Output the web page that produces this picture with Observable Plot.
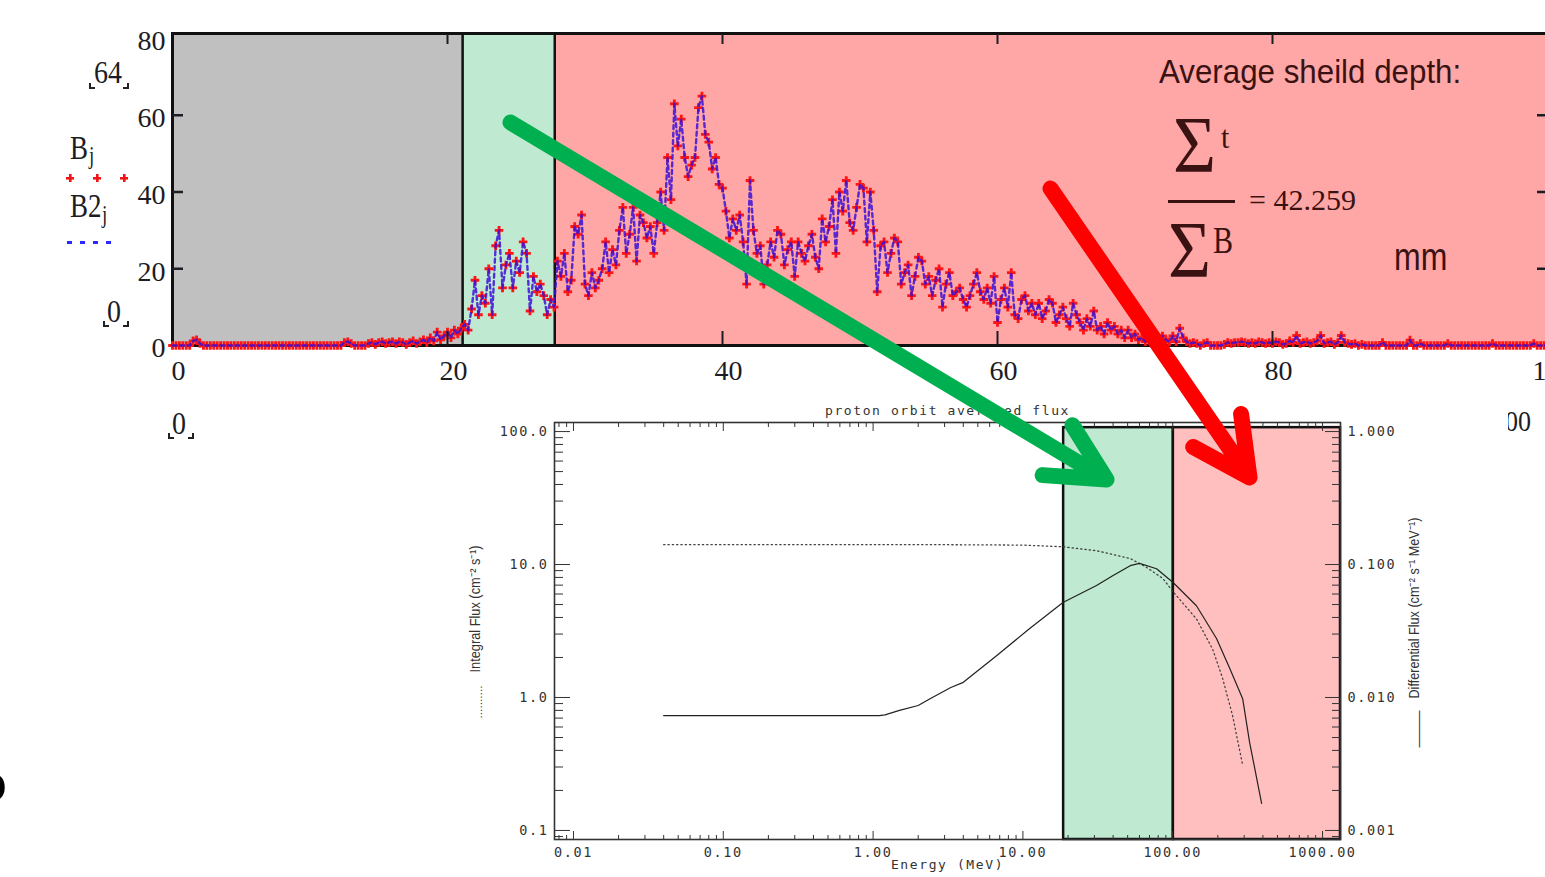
<!DOCTYPE html>
<html><head><meta charset="utf-8">
<script src="https://cdn.jsdelivr.net/npm/d3@7"></script>
<script src="https://cdn.jsdelivr.net/npm/@observablehq/plot@0.6"></script>
<style>
html,body{margin:0;padding:0;width:1545px;height:877px;overflow:hidden;background:#fff;}
.abs{position:absolute;white-space:nowrap;line-height:1;}
svg{max-width:none !important;}
.serif{font-family:"Liberation Serif","Times New Roman",serif;}
.sans{font-family:"Liberation Sans",Arial,sans-serif;}
.ink{color:#1c1c24;}
.note{color:#3b1212;}
.corner{position:absolute;width:4px;height:4px;border-bottom:2px solid #222;}
.cl{border-left:2px solid #222;}
.cr{border-right:2px solid #222;}
.plus{position:absolute;width:8px;height:8px;
  background:linear-gradient(#f21414,#f21414) center/8px 2.6px no-repeat,linear-gradient(#f21414,#f21414) center/2.6px 8px no-repeat;}
</style></head><body>

<div id="top" class="abs" style="left:0;top:0;z-index:1"></div>

<!-- Mathcad-style labels -->
<div style="position:absolute;left:0;top:0;z-index:2">
  <div class="abs serif ink" style="left:94px;top:57px;font-size:28px;transform:scaleY(1.15);transform-origin:0 0">64</div>
  <div class="corner cl" style="left:89px;top:83px"></div><div class="corner cr" style="left:123px;top:83px"></div>

  <div class="abs serif ink" style="left:70px;top:131px;font-size:27px;transform:scaleY(1.28);transform-origin:0 0">B</div>
  <div class="abs serif ink" style="left:89px;top:144px;font-size:19px;transform:scaleY(1.28);transform-origin:0 0">j</div>
  <div class="plus" style="left:66px;top:174px"></div>
  <div class="plus" style="left:93px;top:174px"></div>
  <div class="plus" style="left:120px;top:174px"></div>
  <div class="abs serif ink" style="left:70px;top:189px;font-size:27px;transform:scaleY(1.28);transform-origin:0 0">B2</div>
  <div class="abs serif ink" style="left:102px;top:203px;font-size:19px;transform:scaleY(1.28);transform-origin:0 0">j</div>
  <div class="abs" style="left:67px;top:241px;width:50px;height:2.5px;background:repeating-linear-gradient(90deg,#2a2aff 0 5px,transparent 5px 13px)"></div>

  <div class="abs serif ink" style="left:107px;top:296px;font-size:28px;transform:scaleY(1.15);transform-origin:0 0">0</div>
  <div class="corner cl" style="left:103px;top:321px"></div><div class="corner cr" style="left:123px;top:321px"></div>

  <div class="abs serif ink" style="left:172px;top:408px;font-size:28px;transform:scaleY(1.15);transform-origin:0 0">0</div>
  <div class="corner cl" style="left:168px;top:433px"></div><div class="corner cr" style="left:188px;top:433px"></div>

  <div class="abs serif ink" style="left:1492px;top:407px;font-size:26px;transform:scaleY(1.15);transform-origin:0 0">100</div>

  <div class="abs sans note" style="left:1159px;top:56px;font-size:31.3px;transform:scaleY(1.05);transform-origin:0 0">Average sheild depth:</div>
  <div class="abs serif note" style="left:1173px;top:104px;font-size:74px;transform:scaleY(1.1);transform-origin:0 0">Σ</div>
  <div class="abs serif note" style="left:1221px;top:122px;font-size:30px;transform:scaleY(1.05);transform-origin:0 0">t</div>
  <div class="abs" style="left:1168px;top:200px;width:67px;height:3px;background:#3b1212"></div>
  <div class="abs serif note" style="left:1249px;top:185px;font-size:30px">= 42.259</div>
  <div class="abs serif note" style="left:1168px;top:209px;font-size:74px;transform:scaleY(1.1);transform-origin:0 0">Σ</div>
  <div class="abs serif note" style="left:1213px;top:222px;font-size:30px;transform:scaleY(1.25);transform-origin:0 0">B</div>
  <div class="abs sans note" style="left:1394px;top:238px;font-size:32px;transform:scaleY(1.2);transform-origin:0 0">mm</div>

  <div class="abs sans" style="left:-25px;top:757px;font-size:52px;font-weight:bold;color:#000">o</div>
</div>

<div id="bottom" class="abs" style="left:440px;top:395px;z-index:3"></div>
<div id="arrows" class="abs" style="left:0;top:0;z-index:4;pointer-events:none"></div>

<script>
// ---------- Top chart (Mathcad): B_j and B2_j versus depth ----------
const depthStep = 0.25;           // sample spacing along the x axis
const B = [
  // 0 – 4.75
  0,0,0,0,0,0,1.2,1.5,0.5,0,0,0,0,0,0,0,0,0,0,0,
  // 5 – 9.75
  0,0,0,0,0,0,0,0,0,0,0,0,0,0,0,0,0,0,0,0,
  // 10 – 14.75
  0,0,0,0,0,0,0,0,0,0,0.8,1.0,0.5,0,0,0,0,0.5,0.8,0.3,
  // 15 – 19.75
  0.8,1,0.5,0.8,1,0.5,1,0.8,0.3,0.8,1.2,0.5,1,1.5,0.8,2,1.2,3.5,1.5,2.5,
  // 20 – 24.75
  3.5,2,4,3,4.5,5.5,4,9.5,17,8,13,11,20,8,26,30,15,21,24,15,
  // 25 – 29.75
  22,19,27,24,9,18,14,16,13,8,12,10,22,18,24,14,17,31,29,34,
  // 30 – 34.75
  16,13,19,15,17,20,27,19,25,21,30,36,24,29,36,22,34,32,28,31,
  // 35 – 39.75
  24,32,40,30,49,38,63,52,59,49,44,47,49,62,65,55,53,46,49,42,
  // 40 – 44.75
  41,35,28,33,30,34,27,16,43,30,24,26,16,21,27,23,30,29,21,25,
  // 45 – 49.75
  27,18,27,24,22,26,29,23,20,33,27,31,38,24,40,35,43,32,30,36,
  // 50 – 54.75
  42,41,27,40,30,14,26,27,19,24,28,27,16,19,21,13,18,23,22,16,
  // 55 – 59.75
  18,13,17,20,10,16,19,13,14,15,12,10,13,16,19,14,12,15,11,18,
  // 60 – 64.75
  6,12,15,10,19,8,7,12,13,9,11,8,11,7,9,12,11,6,8,10,
  // 65 – 69.75
  7,5,11,8,6,4,7,5,9,4,5,3,6,4,5,3,4,2,4,2,
  // 70 – 74.75
  3,1.5,2,1,2,1,2.5,1,2.5,1.5,1,2.5,1,4.5,2,1,0.5,0.8,0.5,0,
  // 75 – 79.75
  0.5,0.8,0,0,0,0,0.3,0.8,0.5,0.8,0.8,1,0.8,0.5,0.8,0.5,1,0.8,0.5,0.8,
  // 80 – 84.75
  0.5,1,0.8,0.3,0.5,1.2,0.8,2.6,0.5,0.8,1,0.5,0.8,1.2,2.6,0.5,0.8,1,0.3,0.8,
  // 85 – 89.75
  2.6,0.8,0.5,0.3,0.5,0,0.3,0,0,0,0,0,0.8,0,0,0,0,0,0,0,
  // 90 – 94.75
  1.4,0,0,0.5,0,0,0,0,0,0,0,0.5,0,0,0,0,0,0,0,0,
  // 95 – 99.75
  0,0,0,0,0.5,0,0,0,0,0,0,0,0,0,0,0,0.5,0,0,0,
  // 100
  0
];
const B2 = B;   // the blue dashed B2_j series runs through the same points as B_j in the picture
const topXTicks = [0, 20, 40, 60, 80, 100];
const topYTicks = [0, 20, 40, 60, 80];
const topInnerX = [20, 40, 60, 80];
const topInnerY = [20, 40, 60];
const topBandEdges = [0, 21.1, 27.8, 100];
const topBandColors = ["#c0c0c0", "#c0e9d2", "#ffa6a6"];

const topPts = B.map((b, i) => ({x: i * depthStep, b, b2: B2[i]}));
const yTopMax = 81.3;
const blank = () => "";

const topPlot = Plot.plot({
  width: 1620, height: 400,
  marginLeft: 172, marginRight: 73, marginTop: 33, marginBottom: 55,
  x: {domain: [0, 100], axis: null},
  y: {domain: [0, yTopMax], axis: null},
  style: {background: "transparent", maxWidth: "none", overflow: "visible",
          fontFamily: '"Liberation Serif","Times New Roman",serif', fontSize: "28px", color: "#1c1c24"},
  marks: [
    ...topBandColors.map((c, i) => Plot.rect([i], {x1: d => topBandEdges[d], x2: d => topBandEdges[d + 1], y1: 0, y2: yTopMax, fill: c})),
    Plot.ruleX(topBandEdges.slice(1, 3), {stroke: "#111", strokeWidth: 2.5}),
    Plot.frame({stroke: "#111", strokeWidth: 3}),
    Plot.dot(topPts, {x: "x", y: "b", symbol: "cross", r: 3.6, fill: "#ff1414", stroke: "none"}),
    Plot.line(topPts, {x: "x", y: "b2", stroke: "#3a10d8", strokeOpacity: 0.85, strokeWidth: 2.4, strokeDasharray: "4,3.5"}),
    Plot.axisY(topYTicks, {anchor: "left", tickSize: 0, tickPadding: 7, dy: 3, label: null}),
    Plot.axisY(topInnerY, {anchor: "left", tickSize: -11, strokeWidth: 2.5, tickFormat: blank, label: null}),
    Plot.axisY(topInnerY, {anchor: "right", tickSize: -11, strokeWidth: 2.5, tickFormat: blank, label: null}),
    Plot.axisX(topXTicks, {anchor: "bottom", tickSize: 0, tickPadding: 15, dx: 6, label: null}),
    Plot.axisX(topInnerX, {anchor: "bottom", tickSize: -14, strokeWidth: 2, tickFormat: blank, label: null}),
    Plot.axisX(topInnerX, {anchor: "top", tickSize: -10, strokeWidth: 2, tickFormat: blank, label: null})
  ]
});
document.getElementById("top").append(topPlot);

// ---------- Bottom chart (IDL): proton orbit averaged flux ----------
const intE = [0.04, 0.1, 0.3, 1, 3, 10, 18.5, 31, 52, 67, 86, 101, 144, 185, 215, 251, 293];
const intF = [14.1, 14.1, 14.1, 14.1, 14.1, 14.0, 13.6, 12.7, 11.1, 9.5, 7.85, 6.2, 3.9, 2.3, 1.4, 0.73, 0.31];
const difE = [0.04, 1.1, 1.2, 1.5, 2.0, 2.4, 3.3, 4.0, 6.7, 11.1, 18.5, 31, 40, 52, 60, 78, 101, 144, 196, 240, 293, 326, 392];
const difF = [0.0073, 0.0073, 0.0074, 0.008, 0.0087, 0.0098, 0.0119, 0.013, 0.0207, 0.033, 0.0518, 0.0695, 0.0826, 0.098, 0.102, 0.093, 0.073, 0.049, 0.0278, 0.0166, 0.0098, 0.0046, 0.0016];
const diffToLeft = 100;   // right axis 0.001–1.000 sits against left axis 0.1–100
const botBandEdges = [18.7, 101, 1318];
const botBandColors = ["#bfe9d1", "#ffbfbf"];
const xMajor = [0.01, 0.1, 1, 10, 100, 1000];
const xLabels = ["0.01", "0.10", "1.00", "10.00", "100.00", "1000.00"];
const xMinor = [0.008, 0.009, 0.02, 0.03, 0.04, 0.05, 0.06, 0.07, 0.08, 0.09,
  0.2, 0.3, 0.4, 0.5, 0.6, 0.7, 0.8, 0.9, 2, 3, 4, 5, 6, 7, 8, 9,
  20, 30, 40, 50, 60, 70, 80, 90, 200, 300, 400, 500, 600, 700, 800, 900];
const yMajor = [0.1, 1, 10, 100];
const yLeftLabels = ["0.1", "1.0", "10.0", "100.0"];
const yRightLabels = ["0.001", "0.010", "0.100", "1.000"];
const yMinor = [0.09, 0.2, 0.3, 0.4, 0.5, 0.6, 0.7, 0.8, 0.9, 2, 3, 4, 5, 6, 7, 8, 9,
  20, 30, 40, 50, 60, 70, 80, 90];
const botTitle = "proton orbit averaged flux";
const botXLabel = "Energy (MeV)";
const botYLeftLabel = "Integral Flux (cm\u207B\u00B2 s\u207B\u00B9)";
const botYRightLabel = "Differential Flux (cm\u207B\u00B2 s\u207B\u00B9 MeV\u207B\u00B9)";
const dottedKey = "..........";
const solidKey = "\u2014\u2014";

const intData = intE.map((e, i) => ({e, f: intF[i]}));
const difData = difE.map((e, i) => ({e, f: difF[i]}));
const fmtX = d => xLabels[xMajor.indexOf(d)];
const fmtYL = d => yLeftLabels[yMajor.indexOf(d)];
const fmtYR = d => yRightLabels[yMajor.indexOf(d)];
const xDom = [0.00747, 1318], yDom = [0.0855, 117];
const ink = "#333";
const narrow = '"Liberation Sans",Arial,sans-serif';

const botPlot = Plot.plot({
  width: 1068, height: 482,
  marginLeft: 114, marginRight: 168, marginTop: 27, marginBottom: 38,
  x: {type: "log", domain: xDom, axis: null},
  y: {type: "log", domain: yDom, axis: null},
  style: {background: "white", maxWidth: "none", overflow: "visible",
          fontFamily: '"DejaVu Sans Mono",monospace', fontSize: "13.5px", letterSpacing: "1.6px", color: ink},
  marks: [
    ...botBandColors.map((c, i) => Plot.rect([i], {x1: d => botBandEdges[d], x2: d => botBandEdges[d + 1], y1: yDom[0], y2: 107, fill: c, stroke: "#111", strokeWidth: 2.5})),
    Plot.line(intData, {x: "e", y: "f", stroke: "#444", strokeWidth: 1.3, strokeDasharray: "1.3,3"}),
    Plot.line(difData, {x: "e", y: d => d.f * diffToLeft, stroke: "#222", strokeWidth: 1.2}),
    Plot.frame({stroke: "#333", strokeWidth: 1.6}),
    Plot.axisX(xMajor, {anchor: "bottom", tickSize: 0, tickPadding: 8, tickFormat: fmtX, label: null}),
    Plot.axisX(xMajor, {anchor: "bottom", tickSize: -8, tickFormat: blank, label: null}),
    Plot.axisX(xMinor, {anchor: "bottom", tickSize: -4, tickFormat: blank, label: null}),
    Plot.axisX(xMajor, {anchor: "top", tickSize: -8, tickFormat: blank, label: null}),
    Plot.axisX(xMinor, {anchor: "top", tickSize: -4, tickFormat: blank, label: null}),
    Plot.axisY(yMajor, {anchor: "left", tickSize: 0, tickPadding: 6, tickFormat: fmtYL, label: null}),
    Plot.axisY(yMajor, {anchor: "left", tickSize: -16, tickFormat: blank, label: null}),
    Plot.axisY(yMinor, {anchor: "left", tickSize: -9, tickFormat: blank, label: null}),
    Plot.axisY(yMajor, {anchor: "right", tickSize: 0, tickPadding: 7, tickFormat: fmtYR, label: null}),
    Plot.axisY(yMajor, {anchor: "right", tickSize: -16, tickFormat: blank, label: null}),
    Plot.axisY(yMinor, {anchor: "right", tickSize: -9, tickFormat: blank, label: null}),
    Plot.text([botTitle], {text: d => d, frameAnchor: "top", dy: -17, fontSize: 13}),
    Plot.text([botXLabel], {text: d => d, frameAnchor: "bottom", dy: 29, fontSize: 13}),
    Plot.text([botYLeftLabel], {text: d => d, frameAnchor: "left", textAnchor: "start", dx: -79, dy: 41.5, rotate: -90, fontSize: 14, fontFamily: narrow}),
    Plot.text([dottedKey], {text: d => d, frameAnchor: "left", textAnchor: "start", dx: -76, dy: 87.5, rotate: -90, fontSize: 10, fontFamily: narrow}),
    Plot.text([botYRightLabel], {text: d => d, frameAnchor: "right", textAnchor: "start", dx: 74, dy: 67.5, rotate: -90, fontSize: 14.5, fontFamily: narrow}),
    Plot.text([solidKey], {text: d => d, frameAnchor: "right", textAnchor: "start", dx: 78, dy: 116.5, rotate: -90, fontSize: 14, fontFamily: narrow})
  ]
});
document.getElementById("bottom").append(botPlot);

function fitText(svg, str, len) {
  svg.querySelectorAll("text").forEach(t => {
    if (t.textContent === str) {
      t.style.letterSpacing = "0px";
      t.setAttribute("textLength", len);
      t.setAttribute("lengthAdjust", "spacingAndGlyphs");
    }
  });
}
fitText(botPlot, botYLeftLabel, 127);
fitText(botPlot, dottedKey, 33);
fitText(botPlot, botYRightLabel, 181);
fitText(botPlot, solidKey, 37);

// ---------- Annotation arrows (page pixel frame) ----------
const arrowX1 = [510, 1050];
const arrowY1 = [122, 188];
const arrowX2 = [1106, 1249];
const arrowY2 = [479, 477];
const arrowColors = ["#00b050", "#ff0000"];

const arrowPlot = Plot.plot({
  width: 1545, height: 877, margin: 0,
  x: {domain: [0, 1545], range: [0, 1545], axis: null},
  y: {domain: [0, 877], range: [0, 877], axis: null},
  style: {background: "transparent", maxWidth: "none", overflow: "visible"},
  marks: arrowColors.map((c, i) => Plot.arrow([i], {
    x1: d => arrowX1[d], y1: d => arrowY1[d], x2: d => arrowX2[d], y2: d => arrowY2[d],
    stroke: c, strokeWidth: 16, headLength: 6, headAngle: 54,
    strokeLinecap: "round", strokeLinejoin: "round"
  }))
});
document.getElementById("arrows").append(arrowPlot);
</script>
</body></html>
